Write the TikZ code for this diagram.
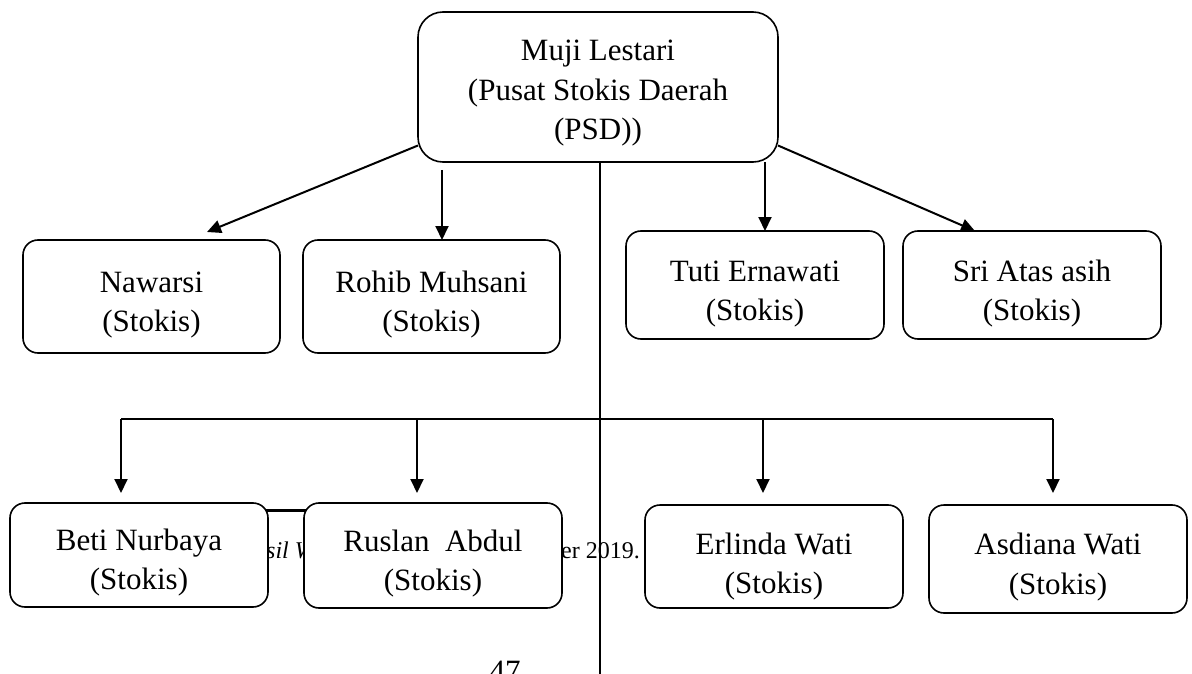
\documentclass[tikz,border=0pt]{standalone}
\usepackage{fontspec}
\setmainfont{Liberation Serif}
\usetikzlibrary{arrows.meta,calc}
\newcommand{\bxfont}{\fontsize{31}{39.5}\selectfont}
\newcommand{\bgfont}{\fontsize{24}{28}\selectfont}
\begin{document}
\begin{tikzpicture}[x=1pt,y=-1pt,
  box/.style={draw, line width=1.6pt, rounded corners=15pt, fill=white,
    minimum width=258pt, inner sep=0pt, outer sep=0pt, align=center, font=\bxfont, text depth=0pt},
  arr/.style={line width=2pt, -{Triangle[length=14pt,width=13pt]}},
  busline/.style={line width=2.4pt},
  trunk/.style={line width=1.4pt},
  bgtext/.style={inner sep=0pt, anchor=base west, font=\bgfont}]
\path[use as bounding box] (0,0) rectangle (1192,674);
\clip (0,0) rectangle (1192,674);
% background (page) text partly hidden by the boxes
\node[bgtext, font=\bgfont\itshape] (src1) at (266,558) {sil W};
\node[bgtext] (src2) at (561,558) {er 2019.};
\node[inner sep=0pt, anchor=base, font=\fontsize{31}{36}\selectfont] (pg) at (505,681) {47};
\draw[line width=3pt] (265,510) -- (306,510);
% boxes
\node[box, minimum width=360pt, minimum height=150pt, rounded corners=25pt, text height=106pt] (top) at (598,87) {Muji Lestari\\(Pusat Stokis Daerah\\(PSD))};
\node[box, minimum width=257pt, minimum height=113pt, text height=70pt] (naw) at (151.5,296.5) {Nawarsi\\(Stokis)};
\node[box, minimum width=257pt, minimum height=113pt, text height=70pt] (roh) at (431.5,296.5) {Rohib Muhsani\\(Stokis)};
\node[box, minimum height=108pt, text height=71pt] (tut) at (755,285) {Tuti Ernawati\\(Stokis)};
\node[box, minimum height=108pt, text height=71pt] (sri) at (1032,285) {Sri Atas asih\\(Stokis)};
\node[box, minimum height=104pt, text height=69pt] (beti) at (139,555) {Beti Nurbaya\\(Stokis)};
\node[box, minimum height=105pt, text height=70pt] (rus) at (433,555.5) {Ruslan~ Abdul\\(Stokis)};
\node[box, minimum height=103pt, text height=74pt] (erl) at (774,556.5) {Erlinda Wati\\(Stokis)};
\node[box, minimum height=108pt, text height=70pt] (asd) at (1058,559) {Asdiana Wati\\(Stokis)};
% connectors
\draw[arr] (top.198.7) -- ($(naw.north)+(55.5,-8)$);
\coordinate (rs) at (442,170);
\draw[arr] (rs) -- (rs |- roh.north);
\coordinate (ts) at (765,162);
\draw[arr] (ts) -- (ts |- tut.north);
\draw[arr] (top.-18.7) -- ($(sri.north)+(-57,0)$);
\coordinate (vb) at (600,690);
\draw[trunk] (top.south -| vb) -- (vb);
\coordinate (b1) at (121,419);
\coordinate (b2) at (417,419);
\coordinate (b3) at (763,419);
\coordinate (b4) at (1053,419);
\draw[busline] (b1) -- (b4);
\draw[arr] (b1) -- ($(b1)+(0,74)$);
\draw[arr] (b2) -- ($(b2)+(0,74)$);
\draw[arr] (b3) -- ($(b3)+(0,74)$);
\draw[arr] (b4) -- ($(b4)+(0,74)$);
\end{tikzpicture}
\end{document}
